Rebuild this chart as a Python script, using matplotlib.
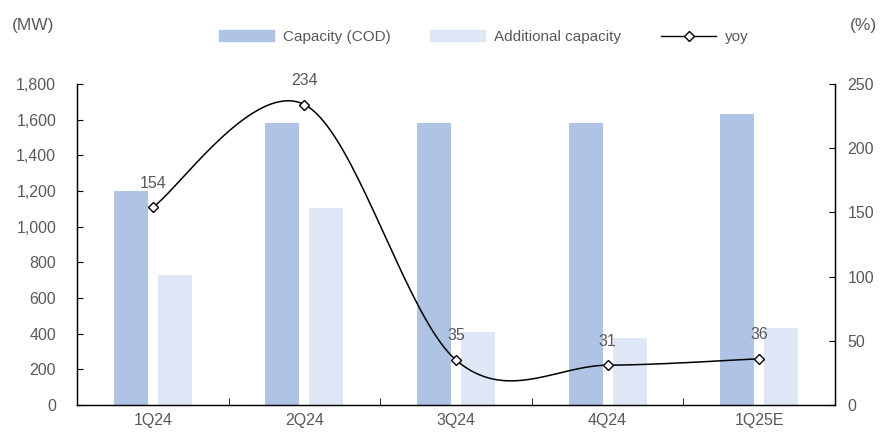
import numpy as np
import matplotlib.pyplot as plt
from matplotlib.lines import Line2D
from matplotlib.patches import Patch

# quarterly data
quarters = ['1Q24', '2Q24', '3Q24', '4Q24', '1Q25E']
capacity_cod = [1200, 1580, 1580, 1580, 1632]
additional_capacity = [730, 1105, 410, 376, 432]
yoy = [154, 234, 35, 31, 36]

GREY = '#595959'
C_COD = '#AFC3E5'
C_ADD = '#DFE7F6'

plt.rcParams['font.family'] = ['Liberation Sans', 'DejaVu Sans']
plt.rcParams['font.size'] = 11


# smooth curve through the points (Bezier, Catmull-Rom style control points)
def smooth_curve(xs, ys, n=40):
    xs = np.asarray(xs, float)
    ys = np.asarray(ys, float)
    px = np.concatenate([[xs[0]], xs, [xs[-1]]])
    py = np.concatenate([[ys[0]], ys, [ys[-1]]])
    out_x, out_y = [], []
    t = np.linspace(0, 1, n)
    for i in range(1, len(px) - 2):
        p0 = np.array([px[i], py[i]])
        p3 = np.array([px[i + 1], py[i + 1]])
        p1 = p0 + (np.array([px[i + 1], py[i + 1]]) - np.array([px[i - 1], py[i - 1]])) / 6
        p2 = p3 - (np.array([px[i + 2], py[i + 2]]) - np.array([px[i], py[i]])) / 6
        b = ((1 - t) ** 3)[:, None] * p0 + (3 * (1 - t) ** 2 * t)[:, None] * p1 \
            + (3 * (1 - t) * t ** 2)[:, None] * p2 + (t ** 3)[:, None] * p3
        out_x.extend(b[:, 0])
        out_y.extend(b[:, 1])
    return np.array(out_x), np.array(out_y)


fig = plt.figure(figsize=(8.81, 4.32), dpi=100)
ax = fig.add_axes([0.0874, 0.0625, 0.8604, 0.7431])
ax2 = ax.twinx()

x = np.arange(len(quarters))
w = 0.225
off = 0.145
ax.bar(x - off, capacity_cod, w, color=C_COD, zorder=2)
ax.bar(x + off, additional_capacity, w, color=C_ADD, zorder=2)

ax.set_xlim(-0.5, len(quarters) - 0.5)
ax.set_ylim(0, 1800)
ax.set_yticks(np.arange(0, 1801, 200))
ax.set_yticklabels([f'{v:,}' for v in range(0, 1801, 200)])
ax.set_xticks(x)
ax.set_xticklabels(quarters)
ax.set_xticks(np.arange(0.5, len(quarters) - 1, 1), minor=True)
ax.tick_params(axis='x', which='major', length=0, pad=6, colors=GREY, labelsize=11.5)
ax.tick_params(axis='x', which='minor', direction='in', length=5, color='black')
ax.tick_params(axis='y', direction='in', length=4, pad=15, colors=GREY, labelsize=11.5)
ax.tick_params(axis='y', color='black')

ax2.set_ylim(0, 250)
ax2.set_yticks(np.arange(0, 251, 50))
ax2.tick_params(axis='y', direction='in', length=4, pad=9, colors=GREY, labelsize=11.5)
ax2.tick_params(axis='y', color='black')

for a in (ax, ax2):
    a.spines['top'].set_visible(False)
    for s in ('left', 'right', 'bottom'):
        a.spines[s].set_color('black')
        a.spines[s].set_linewidth(0.9)

sx, sy = smooth_curve(x, yoy)
ax2.plot(sx, sy, color='black', lw=1.1, zorder=3)
ax2.plot(x, yoy, ls='none', marker='D', ms=5, mfc='white', mec='black', mew=1, zorder=4)
for xi, v in zip(x, yoy):
    ax2.annotate(str(v), (xi, v), xytext=(0, 12), textcoords='offset points',
                 ha='center', va='bottom', color=GREY, fontsize=11.5)

fig.text(0.014, 0.942, '(MW)', color=GREY, fontsize=12.5, va='center')
fig.text(0.965, 0.942, '(%)', color=GREY, fontsize=12.5, va='center')

handles = [Patch(color=C_COD), Patch(color=C_ADD),
           Line2D([], [], color='black', lw=1, marker='D', ms=5, mfc='white', mec='black')]
fig.legend(handles, ['Capacity (COD)', 'Additional capacity', 'yoy'],
           loc='center', bbox_to_anchor=(0.549, 0.914), ncol=3, frameon=False,
           handlelength=3.6, handleheight=0.75, columnspacing=2.6, handletextpad=0.6,
           labelcolor=GREY, fontsize=11)

fig.savefig('out.png', dpi=100)
